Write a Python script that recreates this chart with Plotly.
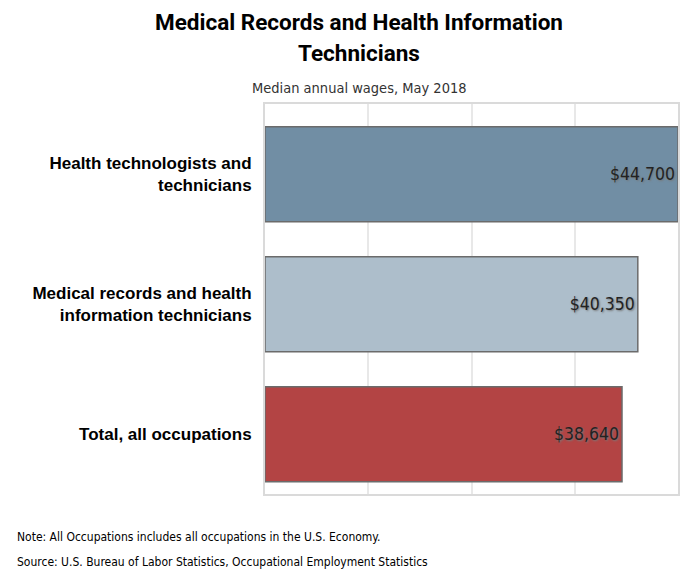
import plotly.graph_objects as go

categories = ["Health technologists and<br>technicians",
              "Medical records and health<br>information technicians",
              "Total, all occupations"]
wages = [44700, 40350, 38640]
wage_labels = ["$44,700", "$40,350", "$38,640"]
bar_colors = ["#718ea4", "#adbecb", "#b34444"]

title_lines = ["Medical Records and Health Information", "Technicians"]
subtitle_text = "Median annual wages, May 2018"
note_text = "Note: All Occupations includes all occupations in the U.S. Economy."
source_text = "Source: U.S. Bureau of Labor Statistics, Occupational Employment Statistics"

W, H = 697, 575
ML, MR, MT, MB = 265, 19, 104, 81

xmax = max(wages)
grid_vals = [xmax * i / 4 for i in range(5)]
n = len(categories)

SANS = "Liberation Sans, Arial, sans-serif"
COND = "DejaVu Sans Condensed, Tahoma, sans-serif"

fig = go.Figure(go.Bar(
    y=categories, x=wages, orientation="h",
    marker=dict(color=bar_colors, line=dict(color="#6b6b6b", width=1.5)),
    text=wage_labels, textposition="inside", insidetextanchor="end",
    textfont=dict(family=COND, size=17.5, color="#222", shadow="1px 1px 2px #777"),
    cliponaxis=False, hoverinfo="skip",
))

fig.update_layout(
    width=W, height=H,
    margin=dict(l=ML, r=MR, t=MT, b=MB),
    plot_bgcolor="white", paper_bgcolor="white",
    showlegend=False, bargap=0.27,
    xaxis=dict(range=[0, xmax], tickvals=grid_vals, showticklabels=False,
               showgrid=True, gridcolor="#e8e8e8", gridwidth=1.5, zeroline=False,
               showline=True, linecolor="#dadada", linewidth=2, mirror=True, fixedrange=True),
    yaxis=dict(range=[n - 0.54, -0.54], showgrid=False, zeroline=False,
               showline=True, linecolor="#dadada", linewidth=2, mirror=True,
               ticks="", ticklabelstandoff=8, fixedrange=True,
               tickfont=dict(family=SANS, size=17, color="#000", weight="bold")),
)

H_plot = H - MT - MB
W_plot = W - ML - MR
def px_y(py):
    return (H - MB - py) / H_plot
def px_x(pxx):
    return (pxx - ML) / W_plot

for txt, yy in zip(title_lines, [22, 53]):
    fig.add_annotation(text="<b>" + txt + "</b>", xref="paper", yref="paper",
                       x=px_x(359), y=px_y(yy), xanchor="center", yanchor="middle", showarrow=False,
                       font=dict(family="Roboto, Liberation Sans, sans-serif", size=22.5, color="#000"))
fig.add_annotation(text=subtitle_text, xref="paper", yref="paper",
                   x=px_x(359), y=px_y(88), xanchor="center", yanchor="middle", showarrow=False,
                   font=dict(family=COND, size=14.5, color="#333"))
for txt, yy in zip([note_text, source_text], [537, 562]):
    fig.add_annotation(text=txt, xref="paper", yref="paper",
                       x=px_x(15), y=px_y(yy), xanchor="left", yanchor="middle", showarrow=False,
                       font=dict(family=COND, size=12, color="#000"))

fig.write_html("out.html", config={"displayModeBar": False},
               post_script="document.body.style.margin='0';document.body.style.overflow='hidden';")
